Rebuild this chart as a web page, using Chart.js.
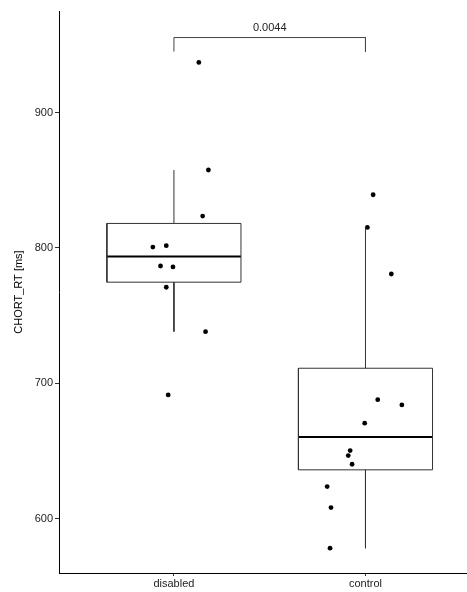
<!DOCTYPE html>
<html>
<head>
<meta charset="utf-8">
<script src="https://cdn.jsdelivr.net/npm/chart.js@4.4.1/dist/chart.umd.min.js"></script>
<style>
  body { margin: 0; background: #fff; }
  canvas { display: block; }
</style>
</head>
<body>
<canvas id="chart" width="467" height="592"></canvas>
<script>
// values
var categories = ['disabled', 'control'];
var yTicks = [600, 700, 800, 900];
var disabledRT = [937, 857.6, 823.6, 801.7, 800.7, 786.7, 786, 771, 738.2, 691.5];
var disabledJitter = [0.13, 0.18, 0.15, -0.04, -0.11, -0.07, -0.005, -0.04, 0.165, -0.03];
var controlRT = [839.3, 815.2, 780.8, 688, 684.1, 670.6, 650.4, 646.7, 640.3, 623.8, 608.3, 578.3];
var controlJitter = [0.04, 0.01, 0.135, 0.064, 0.19, -0.004, -0.08, -0.09, -0.07, -0.2, -0.18, -0.185];
var pValueLabel = '0.0044';
var bracketY = [945, 955.4];

var BOX_HALF = 0.35;

function quantile(sorted, p) {
	var pos = (sorted.length - 1) * p;
	var lo = Math.floor(pos), hi = Math.ceil(pos);
	return sorted[lo] + (sorted[hi] - sorted[lo]) * (pos - lo);
}

// tukey box: whiskers go to last point inside 1.5*IQR
function boxStats(values) {
	var s = values.slice().sort(function(a, b) { return a - b; });
	var q1 = quantile(s, 0.25), med = quantile(s, 0.5), q3 = quantile(s, 0.75);
	var iqr = q3 - q1;
	var inside = s.filter(function(v) { return v >= q1 - 1.5 * iqr && v <= q3 + 1.5 * iqr; });
	return { lo: inside[0], q1: q1, med: med, q3: q3, hi: inside[inside.length - 1] };
}

function lineSet(points, width, color) {
	return {
		data: points, showLine: true, pointRadius: 0, borderWidth: width,
		borderColor: color, backgroundColor: color, fill: false, tension: 0,
		borderJoinStyle: 'miter', borderCapStyle: 'butt'
	};
}

var datasets = [];
[disabledRT, controlRT].forEach(function(values, i) {
	var x = i + 1, b = boxStats(values);
	datasets.push(lineSet([{x: x, y: b.q3}, {x: x, y: b.hi}], 1, '#333'));
	datasets.push(lineSet([{x: x, y: b.q1}, {x: x, y: b.lo}], 1, '#333'));
	datasets.push(lineSet([
		{x: x - BOX_HALF, y: b.q1}, {x: x + BOX_HALF, y: b.q1},
		{x: x + BOX_HALF, y: b.q3}, {x: x - BOX_HALF, y: b.q3},
		{x: x - BOX_HALF, y: b.q1}
	], 1, '#333'));
	datasets.push(lineSet([{x: x - BOX_HALF, y: b.med}, {x: x + BOX_HALF, y: b.med}], 2, '#000'));
});

function jitterPoints(values, jitter, x) {
	return values.map(function(v, i) { return {x: x + jitter[i], y: v}; });
}
[[disabledRT, disabledJitter], [controlRT, controlJitter]].forEach(function(pair, i) {
	datasets.push({
		data: jitterPoints(pair[0], pair[1], i + 1),
		pointRadius: 2.4, pointBackgroundColor: '#000', pointBorderWidth: 0,
		showLine: false
	});
});

datasets.push(lineSet([
	{x: 1, y: bracketY[0]}, {x: 1, y: bracketY[1]},
	{x: 2, y: bracketY[1]}, {x: 2, y: bracketY[0]}
], 1, '#444'));

var bracketLabel = {
	id: 'bracketLabel',
	afterDatasetsDraw: function(chart) {
		var ctx = chart.ctx, xs = chart.scales.x, ys = chart.scales.y;
		ctx.save();
		ctx.font = '11px "Liberation Sans", Arial, sans-serif';
		ctx.fillStyle = '#222';
		ctx.textAlign = 'center';
		ctx.textBaseline = 'bottom';
		ctx.fillText(pValueLabel, (xs.getPixelForValue(1) + xs.getPixelForValue(2)) / 2, ys.getPixelForValue(bracketY[1]) - 4);
		ctx.restore();
	}
};

Chart.defaults.font.family = '"Liberation Sans", Arial, sans-serif';
Chart.defaults.font.size = 11;
Chart.defaults.color = '#222';

new Chart(document.getElementById('chart'), {
	type: 'scatter',
	data: { datasets: datasets },
	plugins: [bracketLabel],
	options: {
		responsive: false,
		animation: false,
		devicePixelRatio: 1,
		layout: { autoPadding: false, padding: { top: 11, right: 0, left: 0, bottom: 0 } },
		plugins: { legend: { display: false }, tooltip: { enabled: false } },
		scales: {
			x: {
				type: 'linear', min: 0.4, max: 2.53,
				afterBuildTicks: function(scale) {
					scale.ticks = categories.map(function(c, i) { return {value: i + 1}; });
				},
				afterFit: function(scale) { scale.height = 19; },
				ticks: {
					padding: 1, maxRotation: 0,
					callback: function(v) { return categories[v - 1]; }
				},
				grid: { display: true, drawOnChartArea: false, drawTicks: true, tickLength: 3, color: '#333' },
				border: { display: true, color: '#000', width: 1 }
			},
			y: {
				min: 560, max: 975,
				afterBuildTicks: function(scale) {
					scale.ticks = yTicks.map(function(v) { return {value: v}; });
				},
				afterFit: function(scale) { scale.width = 59; },
				ticks: { padding: 2 },
				grid: { display: true, drawOnChartArea: false, drawTicks: true, tickLength: 4, color: '#333' },
				border: { display: true, color: '#000', width: 1 },
				title: { display: true, text: 'CHORT_RT [ms]', color: '#000', padding: { top: 12, bottom: 0 } }
			}
		}
	}
});
</script>
</body>
</html>
